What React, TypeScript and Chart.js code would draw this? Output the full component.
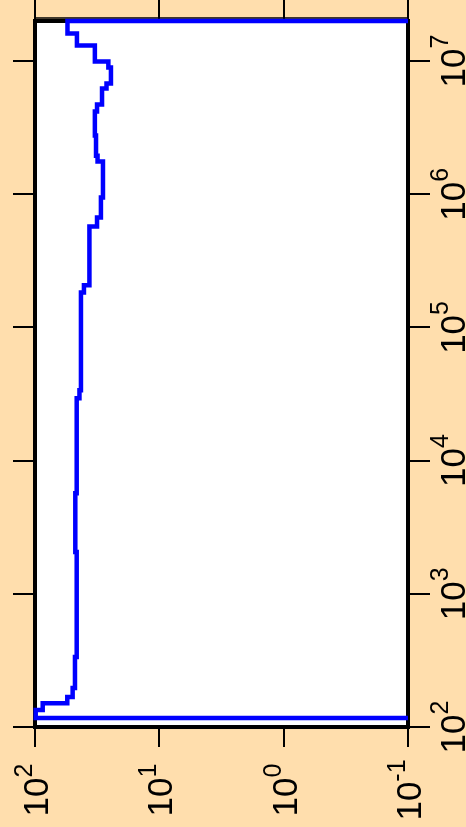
import React, { useEffect, useRef } from 'react';
import { Chart, registerables } from 'chart.js';

Chart.register(...registerables);

// Horizontal axis (log, reversed): 10^2 on the left -> 10^-1 on the right
const xTickValues = [100, 10, 1, 0.1];
const xTickLabels = ['10^2', '10^1', '10^0', '10^-1'];
// Vertical axis (log): 10^2 at the bottom -> 10^7 near the top
const yTickValues = [1e2, 1e3, 1e4, 1e5, 1e6, 1e7];
const yTickLabels = ['10^2', '10^3', '10^4', '10^5', '10^6', '10^7'];

const xMin = 0.1;
const xMax = 100;
const yMin = 100;
const yMax = 2e7;

// Step curve (horizontal value, vertical value)
const stepX = [
  0.1, 54.8, 46.0, 33.0, 25.7, 24.5, 26.6, 28.9, 31.7, 33.0, 32.3, 31.4, 28.4, 29.5,
  31.7, 36.5, 40.4, 42.7, 43.9, 46.2, 47.4, 46.2, 47.7, 49.8, 55.0, 86.7, 98.7, 0.1,
];
const stepY = [
  2e7, 2e7, 1.61e7, 1.31e7, 9.92e6, 8.94e6, 6.78e6, 6.22e6, 4.72e6, 4.18e6, 2.76e6, 1.95e6,
  1.76e6, 9.46e5, 6.7e5, 5.73e5, 2.07e5, 1.83e5, 3.37e4, 2.94e4, 5.69e3, 2.06e3, 335, 196,
  168, 151, 134, 117,
];

const BG = '#FFDEAD';
const FONT = '"Liberation Sans", Arial, sans-serif';
const BASE_SIZE = 35;
const EXP_SIZE = 25;

function drawPower(ctx: CanvasRenderingContext2D, label: string, baseY: number, raise: number) {
  const [base, exp] = label.split('^');
  ctx.font = `${BASE_SIZE}px ${FONT}`;
  const bw = ctx.measureText(base).width;
  ctx.font = `${EXP_SIZE}px ${FONT}`;
  const ew = ctx.measureText(exp).width;
  const w = bw + ew;
  ctx.textAlign = 'left';
  ctx.textBaseline = 'alphabetic';
  ctx.fillStyle = '#000';
  ctx.font = `${BASE_SIZE}px ${FONT}`;
  ctx.fillText(base, -w / 2, baseY);
  ctx.font = `${EXP_SIZE}px ${FONT}`;
  ctx.fillText(exp, -w / 2 + bw, baseY - raise);
}

const decor = {
  id: 'decor',
  beforeDraw(chart: any) {
    const { ctx, chartArea: a, width, height } = chart;
    ctx.save();
    ctx.fillStyle = BG;
    ctx.fillRect(0, 0, width, height);
    ctx.fillStyle = '#ffffff';
    ctx.fillRect(a.left, a.top, a.right - a.left, a.bottom - a.top);
    ctx.restore();
  },
  beforeDatasetsDraw(chart: any) {
    const { ctx, chartArea: a } = chart;
    const xs = chart.scales.x;
    ctx.save();
    ctx.strokeStyle = '#000';
    ctx.lineWidth = 1.5;
    ctx.beginPath();
    ctx.moveTo(xs.getPixelForValue(xMax), a.top - 3);
    ctx.lineTo(xs.getPixelForValue(xMin), a.top - 3);
    ctx.stroke();
    ctx.lineWidth = 4;
    ctx.strokeRect(a.left, a.top, a.right - a.left, a.bottom - a.top);
    ctx.restore();
  },
  afterDraw(chart: any) {
    const { ctx, chartArea: a } = chart;
    const xs = chart.scales.x;
    const ys = chart.scales.y;
    // bottom labels (rotated, reading upward)
    xTickValues.forEach((v, i) => {
      const px = xs.getPixelForValue(v);
      ctx.save();
      ctx.translate(px, a.bottom + 63);
      ctx.rotate(-Math.PI / 2);
      drawPower(ctx, xTickLabels[i], 13, 16);
      ctx.restore();
    });
    // right labels (rotated, reading upward)
    yTickValues.forEach((v, i) => {
      const py = ys.getPixelForValue(v);
      ctx.save();
      ctx.translate(a.right + 57, py);
      ctx.rotate(-Math.PI / 2);
      drawPower(ctx, yTickLabels[i], 0, 17);
      ctx.restore();
    });
  },
};

function axis(position: string, values: number[], min: number, max: number, size: number, reverse: boolean, tickLength: number) {
  return {
    type: 'logarithmic',
    position,
    min,
    max,
    reverse,
    afterBuildTicks: (scale: any) => {
      scale.ticks = values.map((v) => ({ value: v }));
    },
    afterFit: (scale: any) => {
      if (position === 'top' || position === 'bottom') scale.height = size;
      else scale.width = size;
    },
    ticks: { display: false },
    border: { display: false },
    grid: {
      display: true,
      drawOnChartArea: false,
      drawTicks: true,
      tickLength,
      color: '#000',
      lineWidth: 2,
    },
  };
}

export default function App() {
  const canvasRef = useRef<HTMLCanvasElement | null>(null);

  useEffect(() => {
    if (!canvasRef.current) return;
    const data = stepX.map((x, i) => ({ x, y: stepY[i] }));
    const chart = new Chart(canvasRef.current, {
      type: 'scatter',
      data: {
        datasets: [
          {
            data,
            showLine: true,
            stepped: 'after',
            borderColor: '#0000FF',
            backgroundColor: '#0000FF',
            borderWidth: 4.5,
            pointRadius: 0,
            borderJoinStyle: 'miter',
            borderCapStyle: 'butt',
            clip: false,
            xAxisID: 'x',
            yAxisID: 'y',
          } as any,
        ],
      },
      options: {
        animation: false,
        responsive: false,
        layout: { padding: 0 },
        plugins: { legend: { display: false }, tooltip: { enabled: false } },
        scales: {
          x: axis('bottom', xTickValues, xMin, xMax, 100, true, 20),
          x2: axis('top', xTickValues, xMin, xMax, 21, true, 21),
          y: axis('left', yTickValues, yMin, yMax, 35, false, 22),
          y2: axis('right', yTickValues, yMin, yMax, 58, false, 22),
        } as any,
      },
      plugins: [decor],
    });
    return () => chart.destroy();
  }, []);

  return (
    <div style={{ position: 'absolute', left: 0, top: 0, width: 466, height: 827, background: BG }}>
      <canvas ref={canvasRef} width={466} height={827} style={{ display: 'block' }} />
    </div>
  );
}
